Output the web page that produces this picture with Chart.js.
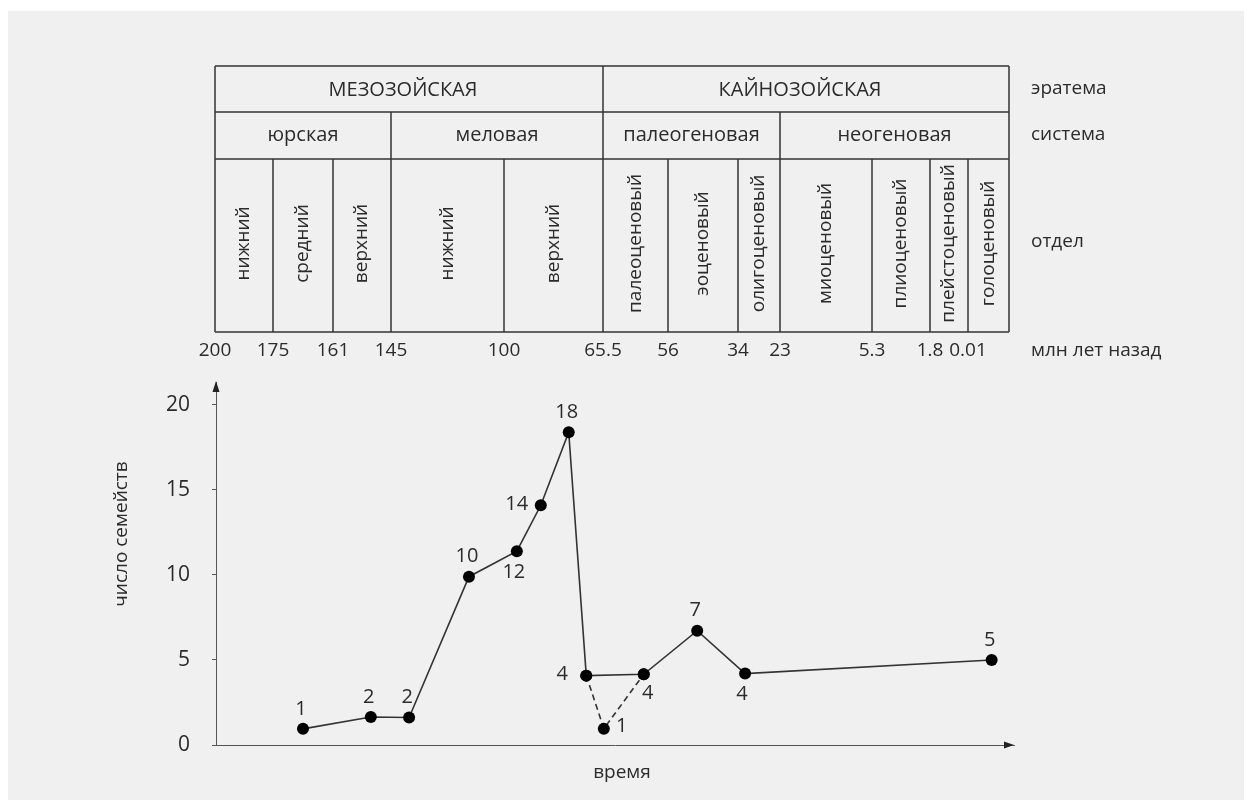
<!DOCTYPE html>
<html lang="ru">
<head>
<meta charset="utf-8">
<title>Число семейств во времени</title>
<script src="https://cdn.jsdelivr.net/npm/chart.js@4.4.1/dist/chart.umd.min.js"></script>
<style>
    html, body { margin: 0; padding: 0; background: #fff; }
    .wrap { position: relative; width: 1252px; height: 810px; }
    .panel { position: absolute; left: 8px; top: 11px; width: 1236px; height: 789px; background: #f0f0f0; }
    .wrap canvas { position: absolute; left: 0; top: 0; }
</style>
</head>
<body>
<div class="wrap">
    <div class="panel"></div>
    <canvas id="geo-chart" width="1252" height="810"></canvas>
</div>
<script>
// values
const eras = ['МЕЗОЗОЙСКАЯ', 'КАЙНОЗОЙСКАЯ'];
const systems = ['юрская', 'меловая', 'палеогеновая', 'неогеновая'];
const epochs = ['нижний', 'средний', 'верхний', 'нижний', 'верхний', 'палеоценовый', 'эоценовый',
    'олигоценовый', 'миоценовый', 'плиоценовый', 'плейстоценовый', 'голоценовый'];
const ages = ['200', '175', '161', '145', '100', '65.5', '56', '34', '23', '5.3', '1.8', '0.01'];
const rowNames = ['эратема', 'система', 'отдел', 'млн лет назад'];

const timeX = [10.9, 19.4, 24.2, 31.7, 37.7, 40.7, 44.2, 46.4, 48.6, 53.6, 60.3, 66.3, 97.2];
const families = [0.95, 1.65, 1.62, 9.9, 11.4, 14.1, 18.4, 4.08, 0.96, 4.16, 6.72, 4.2, 5.0];
const pointLabels = ['1', '2', '2', '10', '12', '14', '18', '4', '1', '4', '7', '4', '5'];
const branchIdx = [7, 8, 9];   // dashed detour
const yTicks = [0, 5, 10, 15, 20];

// layout only (pixels / label placement)
const FONT = '"Open Sans", "Noto Sans", sans-serif';
const INK = '#2b2b2b';
const labelSide = ['top', 'top', 'top', 'top', 'bottom', 'left', 'top', 'left', 'right', 'belowRight', 'top', 'bottom', 'top'];
const sideOffset = {
    top: [-2, -20], bottom: [-3, 21], left: [-24, -1], right: [18, -2], belowRight: [4, 19],
};
const table = {
    top: 66, eraBottom: 112, sysBottom: 159, bottom: 332, agesY: 351, namesX: 1031,
    eraEdges: [215, 603, 1009],
    sysEdges: [215, 391, 603, 780, 1009],
    epochEdges: [215, 273, 333, 391, 504, 603, 668, 738, 780, 872, 930, 968, 1009],
    namesY: [89, 135, 242, 351],
};

const mainPts = timeX.map((x, i) => ({ x, y: families[i] })).filter((p, i) => i !== 8);
const branchPts = branchIdx.map((i) => ({ x: timeX[i], y: families[i] }));

function text(ctx, s, x, y, size, align = 'center', rot = 0) {
    ctx.save();
    ctx.translate(x, y);
    if (rot) ctx.rotate(rot);
    ctx.font = `${size}px ${FONT}`;
    ctx.fillStyle = INK;
    ctx.textAlign = align;
    ctx.textBaseline = 'middle';
    ctx.fillText(s, 0, 0);
    ctx.restore();
}

const geoTable = {
    id: 'geoTable',
    beforeDraw(chart) {
        const ctx = chart.ctx;
        const t = table;
        const L = t.eraEdges[0], R = t.eraEdges[t.eraEdges.length - 1];
        ctx.save();
        ctx.strokeStyle = '#333';
        ctx.lineWidth = 1.5;
        ctx.beginPath();
        [t.top, t.eraBottom, t.sysBottom, t.bottom].forEach((y) => { ctx.moveTo(L, y); ctx.lineTo(R, y); });
        t.eraEdges.forEach((x) => { ctx.moveTo(x, t.top); ctx.lineTo(x, t.eraBottom); });
        t.sysEdges.forEach((x) => { ctx.moveTo(x, t.eraBottom); ctx.lineTo(x, t.sysBottom); });
        t.epochEdges.forEach((x) => { ctx.moveTo(x, t.sysBottom); ctx.lineTo(x, t.bottom); });
        ctx.stroke();
        ctx.restore();

        eras.forEach((s, i) => text(ctx, s, (t.eraEdges[i] + t.eraEdges[i + 1]) / 2 - 6, (t.top + t.eraBottom) / 2 + 1, 20));
        systems.forEach((s, i) => text(ctx, s, (t.sysEdges[i] + t.sysEdges[i + 1]) / 2, (t.eraBottom + t.sysBottom) / 2, 20));
        epochs.forEach((s, i) => text(ctx, s, (t.epochEdges[i] + t.epochEdges[i + 1]) / 2, (t.sysBottom + t.bottom) / 2 - 2, 19, 'center', -Math.PI / 2));
        ages.forEach((s, i) => text(ctx, s, t.epochEdges[i], t.agesY, 19));
        rowNames.forEach((s, i) => text(ctx, s, t.namesX, t.namesY[i], 19, 'left'));
    },
};

const decorations = {
    id: 'decorations',
    afterDatasetsDraw(chart) {
        const ctx = chart.ctx;
        const { x: xs, y: ys } = chart.scales;
        pointLabels.forEach((s, i) => {
            const [dx, dy] = sideOffset[labelSide[i]];
            text(ctx, s, xs.getPixelForValue(timeX[i]) + dx, ys.getPixelForValue(families[i]) + dy, 20);
        });
    },
    afterDraw(chart) {
        const ctx = chart.ctx;
        const a = chart.chartArea;
        ctx.save();
        ctx.fillStyle = '#222';
        ctx.beginPath();
        ctx.moveTo(a.left, a.top - 1);
        ctx.lineTo(a.left - 3.5, a.top + 10);
        ctx.lineTo(a.left + 3.5, a.top + 10);
        ctx.closePath();
        ctx.fill();
        ctx.beginPath();
        ctx.moveTo(a.right, a.bottom);
        ctx.lineTo(a.right - 10, a.bottom - 3.5);
        ctx.lineTo(a.right - 10, a.bottom + 3.5);
        ctx.closePath();
        ctx.fill();
        ctx.restore();
        text(ctx, 'число семейств', 122, 534, 19, 'center', -Math.PI / 2);
        text(ctx, 'время', 622, 773, 19);
    },
};

new Chart(document.getElementById('geo-chart'), {
    type: 'line',
    data: {
        datasets: [
            { data: mainPts, borderColor: '#333', borderWidth: 1.6, pointRadius: 6, pointBackgroundColor: '#000', pointBorderWidth: 0, clip: false },
            { data: branchPts, borderColor: '#333', borderWidth: 1.6, borderDash: [6, 4], pointRadius: 6, pointBackgroundColor: '#000', pointBorderWidth: 0, clip: false },
        ],
    },
    options: {
        responsive: false,
        animation: false,
        layout: { padding: { left: 0, top: 382, right: 238, bottom: 65 } },
        plugins: { legend: { display: false }, tooltip: { enabled: false } },
        scales: {
            x: {
                type: 'linear', min: 0, max: 100,
                ticks: { display: false },
                grid: { display: false },
                border: { display: true, color: '#555', width: 1 },
                afterFit: (s) => { s.height = 0; },
            },
            y: {
                min: 0, max: 21.35,
                afterBuildTicks: (s) => { s.ticks = yTicks.map((v) => ({ value: v })); },
                ticks: { padding: 22, color: INK, font: { family: FONT, size: 21 } },
                grid: { display: true, drawOnChartArea: false, drawTicks: true, tickLength: 4, color: '#555' },
                border: { display: true, color: '#555', width: 1 },
                afterFit: (s) => { s.width = 216; },
            },
        },
    },
    plugins: [geoTable, decorations],
});
</script>
</body>
</html>
